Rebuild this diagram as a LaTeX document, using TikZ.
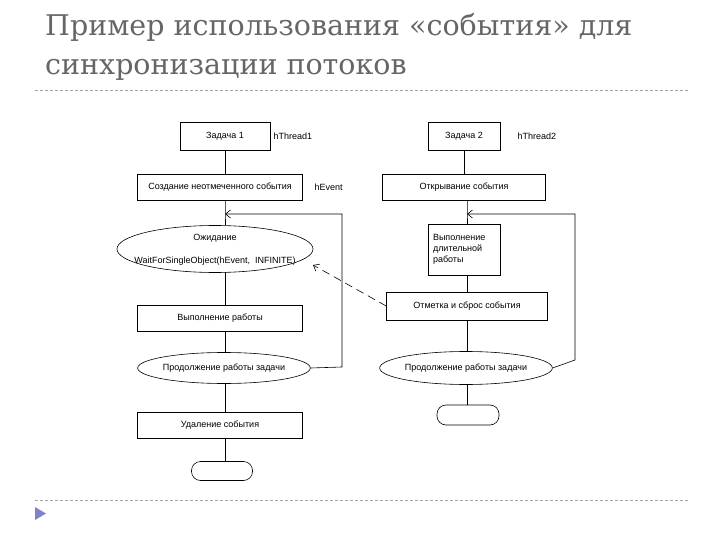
\documentclass[tikz,border=0pt]{standalone}
\usepackage{fontspec}
\setmainfont{Liberation Sans}
\newfontfamily\titlefont{DejaVu Serif}
\usetikzlibrary{shapes.geometric,arrows.meta}
\begin{document}
\begin{tikzpicture}[x=1pt,y=-1pt,
  every node/.style={font=\fontsize{9}{11}\selectfont},
  box/.style={draw,semithick,rectangle,inner sep=0pt},
  ell/.style={draw,semithick,ellipse,inner sep=0pt},
  ln/.style={draw,semithick},
  arr/.style={semithick,-{Straight Barb[length=5pt,width=8pt]}},
  sep/.style={draw=black!35,dashed,dash pattern=on 3pt off 2pt}]
\useasboundingbox (0,0) rectangle (720,540);
\node[anchor=west,text=black!60,font=\titlefont\fontsize{28.5}{39}\selectfont,align=left,inner sep=0pt] (title) at (45,47) {Пример использования «события» для\\синхронизации потоков};
\draw[sep] (35,90) coordinate (s1) -- (690,90) coordinate (s2);
\draw[sep] (35,500) coordinate (s3) -- (690,500) coordinate (s4);
\fill[blue!40!gray!70] (35,507) coordinate (t1) -- (46,513.5) -- (35,520) -- cycle;
% left
\node[box,minimum width=90,minimum height=28] (z1) at (225,136) {Задача 1};
\node[anchor=west] (h1) at (270,136) {hThread1};
\node[box,minimum width=165,minimum height=26] (c1) at (220,187) {Создание неотмеченного события};
\node[anchor=west] (he) at (311,187) {hEvent};
\node[ell,minimum width=196,minimum height=47] (w1) at (215,249) {};
\node (w1a) at (215,238) {Ожидание};
\node (w1b) at (215,261) {WaitForSingleObject(hEvent,\ \ INFINITE)};
\node[box,minimum width=165,minimum height=26] (v1) at (220,318) {Выполнение работы};
\node[ell,minimum width=168,minimum height=31] (p1) at (224,368) {Продолжение работы задачи};
\node[box,minimum width=165,minimum height=26] (u1) at (220,425) {Удаление события};
\node[draw,semithick,rounded corners=9pt,minimum width=61,minimum height=19] (e1) at (222,471) {};
\coordinate (j1) at (225,214);
\draw[ln] (z1) -- (225,174);
\draw[ln] (225,200) -- (j1) -- (225,225);
\draw[ln] (225,272) -- (225,305);
\draw[ln] (225,331) -- (225,352);
\draw[ln] (225,383) -- (225,412);
\draw[ln] (225,438) -- (225,461);
\draw[arr] (p1.east) -- (342,367) -- (342,214) -- (j1);
% right
\node[box,minimum width=72,minimum height=28] (z2) at (464,136) {Задача 2};
\node[anchor=west] (h2) at (514,136) {hThread2};
\node[box,minimum width=163,minimum height=26] (o2) at (464,187) {Открывание события};
\node[box,minimum width=72,minimum height=51,align=left,text width=62] (v2) at (464,249.5) {Выполнение длительной работы};
\node[box,minimum width=161,minimum height=28] (m2) at (467,306) {Отметка и сброс события};
\node[ell,minimum width=159,minimum height=33] (p2) at (466,368) {Продолжение работы задачи};
\node[draw,semithick,rounded corners=9pt,minimum width=62,minimum height=20] (e2) at (468,415) {};
\coordinate (j2) at (467,214);
\draw[ln] (z2) -- (o2);
\draw[ln] (467,200) -- (j2) -- (467,224);
\draw[ln] (467,275) -- (467,292);
\draw[ln] (467,320) -- (467,352);
\draw[ln] (467,385) -- (467,405);
\draw[arr] (p2.east) -- (575,360) -- (575,214) -- (j2);
\draw[arr,dashed,dash pattern=on 8pt off 5pt] (m2.west) -- (313,265);
\end{tikzpicture}
\end{document}
